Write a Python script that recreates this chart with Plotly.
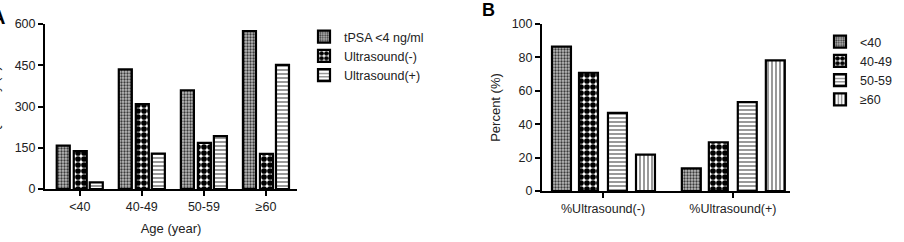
import plotly.graph_objects as go

# ---- data ----
age_groups = ["<40", "40-49", "50-59", "≥60"]
tpsa_low = [158, 435, 359, 574]
us_neg = [138, 309, 168, 128]
us_pos = [24, 129, 192, 451]

pct_cats = ["%Ultrasound(-)", "%Ultrasound(+)"]
pct_lt40 = [86.5, 13.5]
pct_40_49 = [70.8, 29.2]
pct_50_59 = [46.8, 53.2]
pct_ge60 = [21.8, 78.2]

FONT = "Arial, Liberation Sans, sans-serif"
W, H = 904, 242

def px_x(p):
    return p / W

def px_y(p):
    return 1 - p / H

pat_dot = dict(shape=".", size=3, solidity=0.45, fgcolor="#3a3a3a", bgcolor="#bdbdbd", fillmode="replace")
pat_check = dict(shape=".", size=6, solidity=0.7, fgcolor="#000000", bgcolor="#ffffff", fillmode="replace")
pat_h = dict(shape="-", size=4, solidity=0.3, fgcolor="#555555", bgcolor="#ffffff", fillmode="replace")
pat_v = dict(shape="|", size=4, solidity=0.3, fgcolor="#555555", bgcolor="#ffffff", fillmode="replace")
line = dict(color="#000000", width=2.2)

fig = go.Figure()

left_w = 0.21
left_off = [-0.371, -0.097, 0.161]
for name, vals, pat, off in [("tPSA <4 ng/ml", tpsa_low, pat_dot, left_off[0]),
                             ("Ultrasound(-)", us_neg, pat_check, left_off[1]),
                             ("Ultrasound(+)", us_pos, pat_h, left_off[2])]:
    fig.add_trace(go.Bar(x=list(range(len(age_groups))), y=vals, name=name,
                         width=left_w, offset=off,
                         marker=dict(color="white", pattern=pat, line=line),
                         xaxis="x", yaxis="y", legend="legend"))

right_w = 0.146
right_off = [-0.393, -0.185, 0.038, 0.254]
for name, vals, pat, off in [("<40", pct_lt40, pat_dot, right_off[0]),
                             ("40-49", pct_40_49, pat_check, right_off[1]),
                             ("50-59", pct_50_59, pat_h, right_off[2]),
                             ("≥60", pct_ge60, pat_v, right_off[3])]:
    fig.add_trace(go.Bar(x=list(range(len(pct_cats))), y=vals, name=name,
                         width=right_w, offset=off,
                         marker=dict(color="white", pattern=pat, line=line),
                         xaxis="x2", yaxis="y2", legend="legend2"))

axis_common = dict(showline=True, linecolor="#000000", linewidth=2, ticks="outside",
                   tickwidth=2, tickcolor="#000000", ticklen=5, showgrid=False,
                   zeroline=False, automargin=False,
                   tickfont=dict(family=FONT, size=12.5, color="#222222"))

fig.update_layout(
    width=W, height=H, margin=dict(l=0, r=0, t=0, b=0, autoexpand=False),
    paper_bgcolor="white", plot_bgcolor="white",
    barmode="overlay",
    font=dict(family=FONT, size=12, color="#222222"),
    xaxis=dict(domain=[px_x(45), px_x(297)], range=[-0.56, 3.5],
               tickvals=list(range(len(age_groups))), ticktext=age_groups,
               anchor="y", title=dict(text="Age (year)", font=dict(size=13), standoff=11),
               **axis_common),
    yaxis=dict(domain=[px_y(189), px_y(24)], range=[0, 600], tickvals=[0, 150, 300, 450, 600],
               anchor="x", **axis_common),
    xaxis2=dict(domain=[px_x(542), px_x(790)], range=[-0.47, 1.44],
                tickvals=list(range(len(pct_cats))), ticktext=pct_cats,
                anchor="y2", **axis_common),
    yaxis2=dict(domain=[px_y(191), px_y(24)], range=[0, 100], tickvals=[0, 20, 40, 60, 80, 100],
                anchor="x2", title=dict(text="Percent (%)", font=dict(size=13), standoff=8),
                **axis_common),
    legend=dict(x=px_x(304), y=px_y(22), xanchor="left", yanchor="top",
                font=dict(family=FONT, size=12.5, color="#222222"),
                tracegroupgap=0, bgcolor="rgba(0,0,0,0)"),
    legend2=dict(x=px_x(820), y=px_y(27), xanchor="left", yanchor="top",
                 font=dict(family=FONT, size=12.5, color="#222222"),
                 tracegroupgap=0, bgcolor="rgba(0,0,0,0)"),
    showlegend=True,
)

fig.add_annotation(text="B", x=px_x(480), y=px_y(-2), xref="paper", yref="paper",
                   xanchor="left", yanchor="top", showarrow=False,
                   font=dict(family=FONT, size=18, color="#000000", weight="bold"))
fig.add_annotation(text="A", x=px_x(-11), y=px_y(4), xref="paper", yref="paper",
                   xanchor="left", yanchor="top", showarrow=False,
                   font=dict(family=FONT, size=20, color="#000000", weight="bold"))
fig.add_annotation(text="Quantity (n)", x=px_x(-5), y=px_y(100), xref="paper", yref="paper",
                   xanchor="center", yanchor="middle", textangle=-90, showarrow=False,
                   font=dict(family=FONT, size=13, color="#222222"))

fig.write_html("out.html")
